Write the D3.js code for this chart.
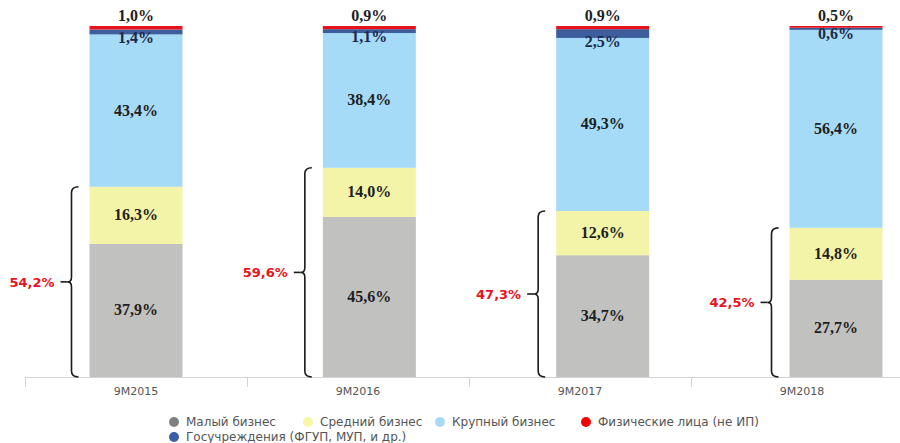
<!DOCTYPE html>
<html>
<head>
<meta charset="utf-8">
<script src="https://cdn.jsdelivr.net/npm/d3@7"></script>
<style>
  body { margin: 0; background: #fff; }
  svg { display: block; }
</style>
</head>
<body>
<svg id="chart"></svg>
<script>
// data (percent of total)
var periods = ["9M2015", "9M2016", "9M2017", "9M2018"];
var small = [37.9, 45.6, 34.7, 27.7];
var medium = [16.3, 14.0, 12.6, 14.8];
var large = [43.4, 38.4, 49.3, 56.4];
var gov = [1.4, 1.1, 2.5, 0.6];
var individuals = [1.0, 0.9, 0.9, 0.5];
var smeTotals = [54.2, 59.6, 47.3, 42.5];

var seriesNames = ["Малый бизнес", "Средний бизнес", "Крупный бизнес", "Госучреждения (ФГУП, МУП, и др.)", "Физические лица (не ИП)"];
var barColors = ["#c1c1bf", "#f4f4a9", "#a5dbf7", "#3d5d9c", "#e8121b"];
var legendColors = ["#808080", "#f7f7a6", "#a9d9f5", "#3c5ea8", "#f00000"];

var width = 900, height = 443;
var svg = d3.select("#chart").attr("width", width).attr("height", height);

var fmt = function (v) { return d3.format(".1f")(v).replace(".", ",") + "%"; };

var y = d3.scaleLinear().domain([0, 100]).range([377, 26]);
var xBar = d3.scalePoint().domain(periods).range([136, 836]);
var barW = 93;
var xAxis = d3.scaleBand().domain(periods).range([25, 913]);

// stack the series
var rows = periods.map(function (p, i) {
    return { period: p, small: small[i], medium: medium[i], large: large[i], gov: gov[i], ind: individuals[i] };
});
var keys = ["small", "medium", "large", "gov", "ind"];
var stacked = d3.stack().keys(keys)(rows);

// axis line and boundary ticks
var axisG = svg.append("g");
axisG.append("line")
    .attr("x1", 25).attr("x2", width)
    .attr("y1", y(0) + 0.5).attr("y2", y(0) + 0.5)
    .attr("stroke", "#d3d3d3");
axisG.selectAll("line.tick")
    .data(periods)
    .enter()
    .append("line")
    .attr("class", "tick")
    .attr("x1", function (d) { return xAxis(d) + 0.5; })
    .attr("x2", function (d) { return xAxis(d) + 0.5; })
    .attr("y1", y(0)).attr("y2", y(0) + 10)
    .attr("stroke", "#d3d3d3");
axisG.selectAll("text")
    .data(periods)
    .enter()
    .append("text")
    .attr("x", function (d) { return xAxis(d) + xAxis.bandwidth() / 2; })
    .attr("y", 395)
    .attr("text-anchor", "middle")
    .style("font-family", "DejaVu Sans, sans-serif")
    .style("font-size", "11px")
    .style("fill", "#555")
    .text(function (d) { return d; });

// bars
var layers = svg.append("g").selectAll("g")
    .data(stacked)
    .enter()
    .append("g")
    .attr("fill", function (d, i) { return barColors[i]; });

layers.selectAll("rect")
    .data(function (d) { return d; })
    .enter()
    .append("rect")
    .attr("x", function (d) { return xBar(d.data.period) - barW / 2; })
    .attr("y", function (d) { return y(d[1]); })
    .attr("width", barW)
    .attr("height", function (d) { return y(d[0]) - y(d[1]); });

// value labels
var labelG = svg.append("g")
    .style("font-family", "Liberation Serif, Times New Roman, serif")
    .style("font-weight", "bold")
    .style("font-size", "16px")
    .attr("text-anchor", "middle");

stacked.forEach(function (layer, k) {
    labelG.selectAll("text.l" + k)
        .data(layer)
        .enter()
        .append("text")
        .attr("class", "l" + k)
        .attr("x", function (d) { return xBar(d.data.period); })
        .attr("y", function (d) {
            if (k < 3) return (y(d[0]) + y(d[1])) / 2 + 5;
            if (k == 3) return y(d[0]) + 9;
            return 21;
        })
        .style("fill", k == 3 ? "#1b2a4a" : "#1e1e1e")
        .text(function (d) { return fmt(d[1] - d[0]); });
});

// braces for small + medium business
var braceG = svg.append("g");
periods.forEach(function (p, i) {
    var x0 = xBar(p) - barW / 2 - 18;
    var top = y(small[i] + medium[i]);
    var bot = y(0);
    var mid = (top + bot) / 2;
    var path = "M" + (x0 + 7) + "," + top +
        " Q" + x0 + "," + top + " " + x0 + "," + (top + 6) +
        " L" + x0 + "," + (mid - 5) +
        " Q" + x0 + "," + mid + " " + (x0 - 4) + "," + mid +
        " Q" + x0 + "," + mid + " " + x0 + "," + (mid + 5) +
        " L" + x0 + "," + (bot - 6) +
        " Q" + x0 + "," + bot + " " + (x0 + 7) + "," + bot;
    braceG.append("path")
        .attr("d", path)
        .attr("fill", "none")
        .attr("stroke", "#1a1a1a")
        .attr("stroke-width", 1.6);
    braceG.append("line")
        .attr("x1", x0 - 4).attr("x2", x0 - 11)
        .attr("y1", mid).attr("y2", mid)
        .attr("stroke", "#1a1a1a")
        .attr("stroke-width", 1.6);
    braceG.append("text")
        .attr("x", x0 - 17)
        .attr("y", mid + 5)
        .attr("text-anchor", "end")
        .style("font-family", "DejaVu Sans, sans-serif")
        .style("font-weight", "bold")
        .style("font-size", "13px")
        .style("fill", "#e8141c")
        .text(fmt(smeTotals[i]));
});

// legend
var legendPos = [[174, 422], [308, 422], [440, 422], [174, 437], [586, 422]];
var legend = svg.append("g").selectAll("g")
    .data(seriesNames)
    .enter()
    .append("g")
    .attr("transform", function (d, i) { return "translate(" + legendPos[i][0] + "," + legendPos[i][1] + ")"; });
legend.append("circle")
    .attr("r", 5)
    .attr("fill", function (d, i) { return legendColors[i]; });
legend.append("text")
    .attr("x", 12)
    .attr("y", 4)
    .style("font-family", "DejaVu Sans, sans-serif")
    .style("font-size", "12px")
    .style("fill", "#555")
    .text(function (d) { return d; });
</script>
</body>
</html>
